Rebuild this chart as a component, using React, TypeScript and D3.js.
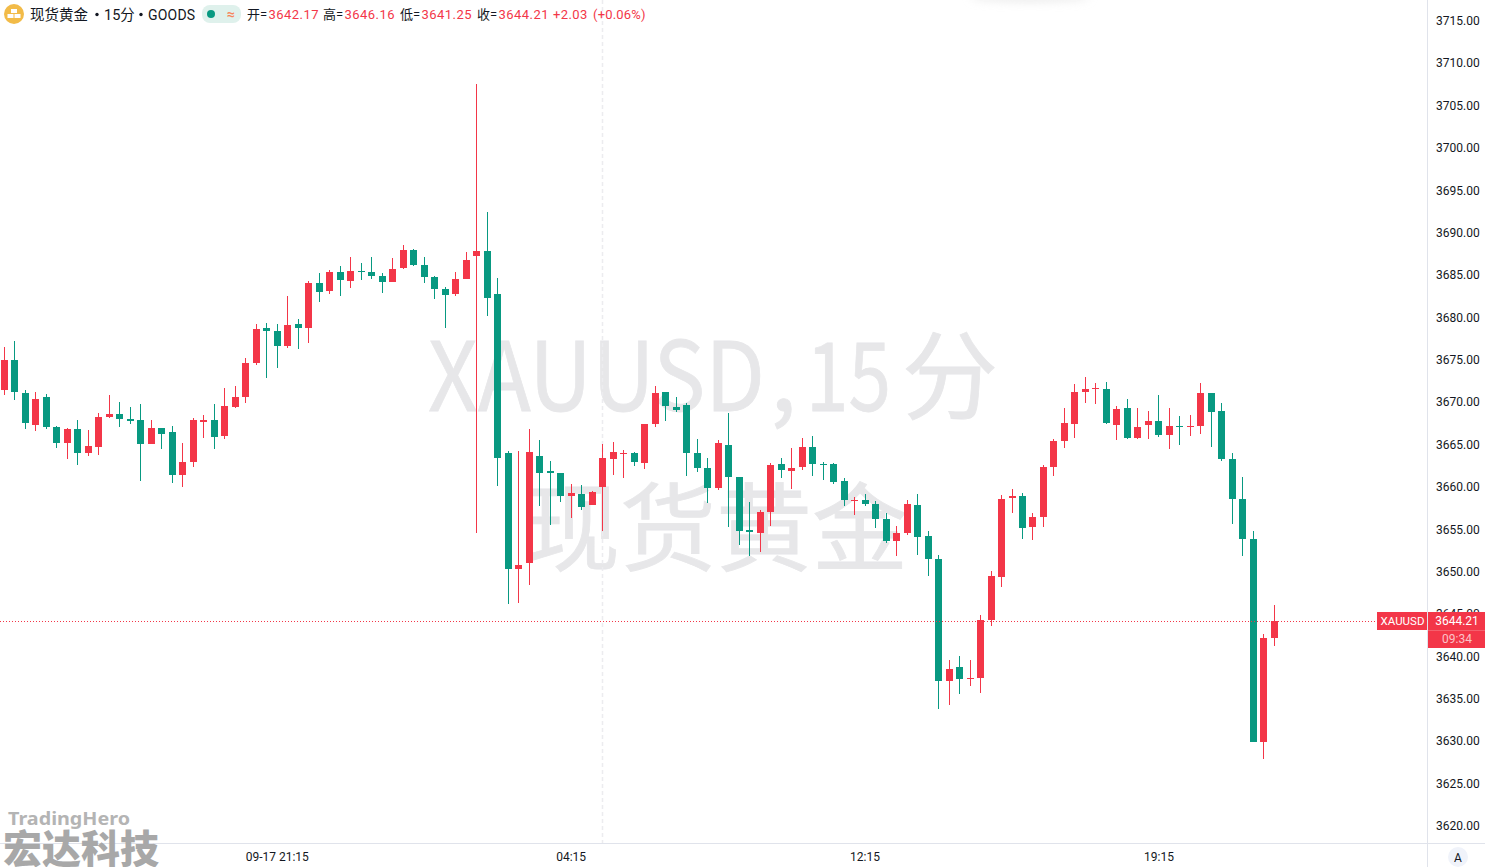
import React from "react";
import * as d3 from "d3";

const opens = [
  3671.35,3674.88,3670.99,3667.22,3670.52,3666.98,3665.09,3666.75,3663.91,3664.62,
  3668.16,3668.52,3667.93,3667.81,3664.98,3666.86,3666.39,3661.32,3662.85,3667.57,
  3667.81,3665.92,3669.34,3670.52,3674.53,3678.66,3678.31,3676.54,3679.13,3678.66,
  3683.97,3683.02,3685.27,3684.21,3685.38,3685.27,3684.80,3684.09,3685.74,3687.86,
  3686.09,3684.68,3683.26,3682.67,3684.44,3687.15,3687.74,3682.67,3663.92,3650.23,
  3650.94,3663.56,3661.79,3661.56,3658.84,3659.08,3657.78,3659.91,3663.21,3663.80,
  3663.92,3662.74,3667.34,3671.11,3669.35,3669.58,3663.92,3662.15,3659.79,3664.86,
  3661.09,3654.84,3654.48,3656.96,3662.62,3661.80,3662.27,3664.63,3662.62,3662.62,
  3660.62,3658.26,3658.37,3657.90,3656.13,3653.54,3654.48,3657.78,3654.13,3651.42,
  3637.02,3638.68,3637.26,3637.38,3644.22,3649.29,3658.61,3658.85,3655.19,3656.37,
  3662.27,3665.33,3667.34,3671.11,3671.47,3671.47,3667.22,3669.23,3665.69,3667.22,
  3667.69,3666.04,3667.10,3666.99,3667.10,3671.00,3668.87,3663.21,3658.49,3653.77,
  3629.83,3642.10,
];
const closes = [
  3674.88,3671.11,3667.45,3670.28,3666.98,3665.09,3666.75,3663.91,3664.74,3668.16,
  3668.52,3667.93,3667.69,3664.98,3666.86,3666.16,3661.32,3662.85,3667.81,3667.81,
  3665.80,3669.46,3670.52,3674.53,3678.54,3678.31,3676.54,3679.01,3678.66,3683.97,
  3682.91,3685.27,3684.32,3685.38,3685.27,3684.80,3684.09,3685.62,3687.86,3686.09,
  3684.68,3683.26,3682.55,3684.44,3686.68,3687.74,3682.20,3663.33,3650.23,3650.70,
  3664.03,3661.56,3661.56,3658.84,3659.20,3657.55,3659.32,3663.33,3664.03,3663.92,
  3662.85,3667.34,3671.00,3669.46,3668.99,3663.92,3662.15,3659.79,3665.10,3661.09,
  3654.72,3654.60,3656.96,3662.50,3661.91,3662.15,3664.63,3662.62,3662.50,3660.50,
  3658.37,3658.37,3657.90,3656.13,3653.54,3654.48,3657.90,3654.01,3651.42,3637.02,
  3638.44,3637.26,3637.38,3644.22,3649.41,3658.49,3658.85,3655.07,3656.37,3662.27,
  3665.33,3667.46,3671.11,3671.47,3671.59,3667.46,3669.11,3665.69,3666.99,3667.69,
  3666.04,3667.10,3666.99,3667.10,3671.00,3668.76,3663.21,3658.49,3653.77,3629.83,
  3642.10,3644.10,
];
const highs = [
  3676.42,3677.13,3671.35,3671.11,3670.87,3667.10,3666.86,3667.81,3666.63,3668.63,
  3670.76,3669.93,3669.34,3669.69,3667.81,3666.86,3667.10,3665.09,3668.04,3668.40,
  3669.69,3671.58,3671.82,3675.12,3679.13,3679.25,3679.13,3682.43,3679.72,3684.20,
  3685.15,3685.50,3685.97,3687.04,3686.33,3687.04,3685.15,3686.92,3688.45,3687.98,
  3687.04,3684.80,3683.50,3685.27,3687.63,3707.44,3692.34,3684.56,3664.15,3664.15,
  3666.75,3665.45,3662.97,3661.56,3660.26,3660.14,3659.43,3664.98,3665.21,3664.27,
  3664.03,3667.34,3671.82,3671.11,3670.52,3669.82,3665.57,3663.33,3665.45,3668.64,
  3661.09,3658.14,3657.20,3662.74,3663.33,3664.51,3665.69,3665.92,3662.86,3662.74,
  3660.97,3658.73,3659.08,3658.26,3656.84,3655.31,3658.37,3659.08,3654.72,3651.89,
  3639.50,3639.97,3639.50,3644.81,3650.00,3658.96,3659.67,3659.20,3656.84,3662.50,
  3665.57,3669.23,3672.06,3672.88,3672.18,3672.29,3669.46,3670.29,3669.23,3668.87,
  3670.76,3669.23,3668.28,3668.40,3672.18,3671.00,3669.82,3663.92,3661.09,3654.72,
  3642.57,3645.99,
];
const lows = [
  3670.76,3670.17,3666.75,3666.51,3666.75,3664.50,3663.21,3662.50,3663.56,3663.68,
  3668.04,3666.98,3667.34,3660.61,3664.98,3664.39,3660.38,3659.90,3662.26,3665.68,
  3664.39,3665.57,3669.22,3669.81,3674.29,3672.76,3673.94,3676.30,3676.18,3676.89,
  3681.73,3682.67,3682.44,3683.38,3684.32,3684.44,3682.79,3684.09,3685.62,3685.97,
  3683.97,3682.08,3678.66,3682.44,3684.44,3654.52,3680.08,3660.02,3646.10,3646.22,
  3648.35,3657.66,3655.42,3658.14,3656.25,3657.19,3657.78,3654.72,3661.32,3660.97,
  3662.38,3662.03,3666.99,3667.69,3668.76,3661.21,3661.68,3658.02,3659.55,3655.19,
  3653.07,3651.77,3652.24,3655.31,3660.97,3659.67,3661.91,3661.21,3660.73,3660.26,
  3657.67,3656.61,3657.67,3655.07,3653.30,3651.77,3654.25,3651.89,3649.41,3633.72,
  3634.19,3635.49,3636.43,3635.61,3643.51,3648.11,3656.84,3653.77,3653.66,3655.19,
  3661.21,3664.51,3665.69,3669.82,3669.70,3667.34,3665.45,3665.57,3665.57,3665.57,
  3665.81,3664.39,3664.86,3665.92,3666.16,3664.63,3662.98,3655.54,3651.77,3629.83,
  3627.82,3641.15,
];

const priceTicks = [
  3715,3710,3705,3700,3695,3690,3685,3680,3675,3670,
  3665,3660,3655,3650,3645,3640,3635,3630,3625,3620,
];
const timeIndex = [26, 54, 82, 110];
const timeLabels = ["09-17 21:15", "04:15", "12:15", "19:15"];
const sessionBreakIndex = 57;
const quoteLabels = ["开=", "高=", "低=", "收="];
const quoteValues = ["3642.17", "3646.16", "3641.25", "3644.21"];
const quoteX = [247, 323, 400, 477];
const lastPriceText = "3644.21";
const countdownText = "09:34";
const symbol = "XAUUSD";

const RED = "#f33648";
const GREEN = "#089981";
const W = 1485;
const H = 867;
const AXIS_X = 1427;
const AXIS_Y = 843;
const UI = "Roboto, 'Noto Sans CJK SC', sans-serif";
const CJK = "'Noto Sans CJK SC', 'Noto Sans', sans-serif";

const y = d3.scaleLinear().domain([3715, 3620]).range([20, 825.2]);
const x = d3.scaleLinear().domain([0, 121]).range([4.4, 1274.4]);

export default function App() {
  const lastY = Math.round(y(closes[closes.length - 1]));
  return (
    <svg
      width={W}
      height={H}
      viewBox={`0 0 ${W} ${H}`}
      style={{ position: "absolute", left: 0, top: 0, display: "block", background: "#fff" }}
    >
      <defs>
        <filter id="soft" x="-20%" y="-200%" width="140%" height="500%">
          <feGaussianBlur stdDeviation="5" />
        </filter>
      </defs>
      <ellipse cx={1030} cy={-3} rx={60} ry={5} fill="#d8d8d8" opacity={0.5} filter="url(#soft)" />

      {/* watermark */}
      <g fill="#e7e7e9" stroke="#e7e7e9" strokeWidth={0.8} fontFamily={CJK} fontSize={96}>
        <text x={428} y={411} textLength={337} lengthAdjust="spacingAndGlyphs">XAUUSD</text>
        <text x={770} y={411}>,</text>
        <text x={806} y={411} textLength={85} lengthAdjust="spacingAndGlyphs">15</text>
        <text x={902} y={411}>分</text>
        <text x={716} y={563} textAnchor="middle">现货黄金</text>
      </g>

      {/* session break */}
      <line
        x1={Math.floor(x(sessionBreakIndex)) + 0.5}
        x2={Math.floor(x(sessionBreakIndex)) + 0.5}
        y1={0}
        y2={AXIS_Y}
        stroke="#ececef"
        strokeWidth={1.5}
        strokeDasharray="4 3"
      />

      {/* candles */}
      <g shapeRendering="crispEdges">
        {opens.map((o, i) => {
          const c = closes[i];
          const color = c >= o ? RED : GREEN;
          const px = Math.floor(x(i));
          const top = Math.round(y(Math.max(o, c)));
          const bot = Math.round(y(Math.min(o, c)));
          const wt = Math.round(y(highs[i]));
          const wb = Math.round(y(lows[i]));
          return (
            <g key={i} fill={color}>
              <rect x={px} y={wt} width={1} height={Math.max(1, wb - wt)} />
              <rect x={px - 3} y={top} width={7} height={Math.max(1, bot - top)} />
            </g>
          );
        })}
      </g>

      {/* last price line */}
      <line
        x1={0}
        x2={1377}
        y1={lastY + 0.5}
        y2={lastY + 0.5}
        stroke={RED}
        strokeDasharray="1 2"
      />

      {/* axes */}
      <rect x={AXIS_X} y={0} width={1} height={H} fill="#e0e3eb" />
      <rect x={0} y={AXIS_Y} width={W} height={1} fill="#e0e3eb" />

      <g fontFamily={UI} fontSize={12} fill="#131722">
        {priceTicks.map((t) => (
          <text key={t} x={1436} y={Math.round(y(t) + 5)}>
            {t.toFixed(2)}
          </text>
        ))}
        {timeIndex.map((idx, i) => (
          <text key={idx} x={x(idx)} y={861} textAnchor="middle">
            {timeLabels[i]}
          </text>
        ))}
      </g>

      {/* price labels */}
      <rect x={1377} y={lastY - 9} width={50} height={18} fill={RED} />
      <rect x={1428} y={lastY - 9} width={57} height={36} fill={RED} />
      <rect x={1428} y={lastY + 9} width={57} height={1} fill="#f4606d" />
      <g fontFamily={UI} textAnchor="middle">
        <text x={1402.5} y={lastY + 3.5} fontSize={11.5} fill="#fff">{symbol}</text>
        <text x={1457} y={lastY + 3.5} fontSize={12} fill="#fff">{lastPriceText}</text>
        <text x={1457} y={lastY + 22} fontSize={12} fill="#fbc3c8">{countdownText}</text>
      </g>

      {/* auto button */}
      <circle cx={1458} cy={857} r={10} fill="#f0f3fa" />
      <text x={1458} y={861.5} fontFamily={UI} fontSize={12} textAnchor="middle" fill="#131722">A</text>

      {/* header */}
      <circle cx={14} cy={14} r={10} fill="#f2bb48" />
      <g fill="#fff">
        <rect x={11} y={9} width={6} height={4} />
        <rect x={7.5} y={14} width={6} height={4} />
        <rect x={14.5} y={14} width={6} height={4} />
      </g>
      <g fontFamily={UI} fontSize={14.5} fill="#131722">
        <text x={30} y={19.5}>现货黄金</text>
        <circle cx={97} cy={14.5} r={1.7} />
        <text x={104} y={19.5}>15分</text>
        <circle cx={141} cy={14.5} r={1.7} />
        <text x={148} y={19.5} fontSize={14} letterSpacing={0.2}>GOODS</text>
      </g>
      <rect x={202} y={5} width={39} height={18} rx={8} fill="#dff1ec" />
      <circle cx={211} cy={14} r={4} fill={GREEN} />
      <text x={231} y={18.5} fontFamily={UI} fontSize={14} fontWeight={700} textAnchor="middle" fill="#f7845b">≈</text>
      <g fontFamily={UI} fontSize={13}>
        {quoteLabels.map((l, i) => (
          <React.Fragment key={l}>
            <text x={quoteX[i]} y={19} fill="#131722">{l}</text>
            <text x={quoteX[i] + 21.5} y={19} fill={RED} letterSpacing={0.45}>{quoteValues[i]}</text>
          </React.Fragment>
        ))}
        <text x={553} y={19} fill={RED} letterSpacing={0.4}>+2.03</text>
        <text x={593} y={19} fill={RED} letterSpacing={0.2}>(+0.06%)</text>
      </g>

      {/* logo */}
      <text x={8} y={825} fontFamily="'Noto Sans', sans-serif" fontWeight={700} fontSize={18.5} fill="#b4b4b4" textLength={122} lengthAdjust="spacingAndGlyphs">TradingHero</text>
      <text x={3} y={863} fontFamily={CJK} fontWeight={900} fontSize={39} fill="#a8a8a8">宏达科技</text>
    </svg>
  );
}
